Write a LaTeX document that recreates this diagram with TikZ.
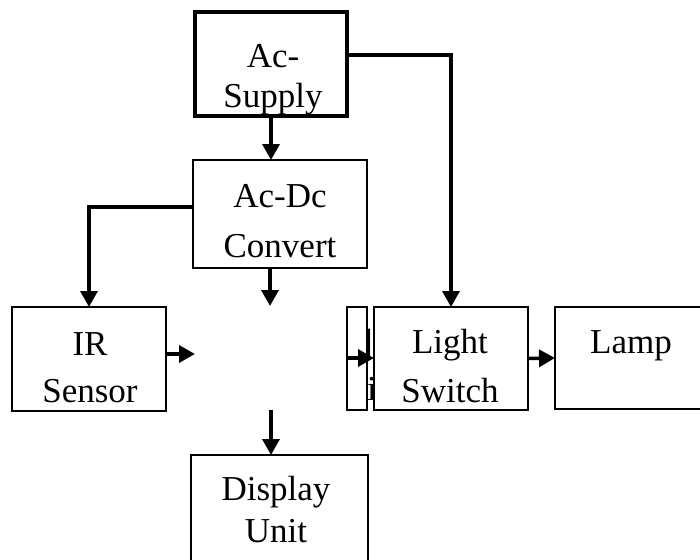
\documentclass[tikz,border=0pt]{standalone}
\usepackage{fontspec}
\setmainfont{Liberation Serif}
\usetikzlibrary{arrows.meta}
\begin{document}
\begin{tikzpicture}[x=1pt,y=-1pt,
  blk/.style={draw=black, line width=2.6pt, fill=white, rectangle, inner sep=0pt, outer sep=0pt, anchor=north west},
  txt/.style={anchor=base, inner sep=0pt, font=\fontsize{35}{42}\selectfont},
  arr/.style={line width=3.5pt, -{Triangle[length=16pt,width=17pt]}},
  lnk/.style={line width=3.5pt}]
\useasboundingbox (0,0) rectangle (700,559);
% boxes
\node[blk, line width=4pt, minimum width=152pt, minimum height=104pt] (supply) at (195,12) {};
\node[blk, minimum width=174pt, minimum height=108pt] (acdc) at (193,160) {};
\node[blk, minimum width=154pt, minimum height=104pt] (ir) at (12,307) {};
\node[blk, minimum width=20pt, minimum height=103pt] (narrow) at (347,307) {};
\node[blk, minimum width=154pt, minimum height=103pt] (light) at (374,307) {};
\node[blk, minimum width=160pt, minimum height=102pt] (lamp) at (555,307) {};
\node[blk, minimum width=177pt, minimum height=110pt] (display) at (191,455) {};
% clipped fragments of hidden text
\begin{scope}
\clip (368.5,300) rectangle (373,412);
\node[txt] (frag1) at (367,353) {]};
\node[txt] (frag2) at (372,400) {i};
\end{scope}
% texts
\node[txt] (supplyA) at (273,68) {Ac-};
\node[txt] (supplyB) at (273,107) {Supply};
\node[txt] (acdcA) at (280,207) {Ac-Dc};
\node[txt] (acdcB) at (280,257) {Convert};
\node[txt] (irA) at (90,355) {IR};
\node[txt] (irB) at (90,402) {Sensor};
\node[txt] (lightA) at (450,353) {Light};
\node[txt] (lightB) at (450,402) {Switch};
\node[txt] (lampA) at (631,353) {Lamp};
\node[txt] (dispA) at (276,500) {Display};
\node[txt] (dispB) at (276,542) {Unit};
% free ends (hidden block)
\coordinate (mcuN) at (270,306);
\coordinate (mcuW) at (195,354);
\coordinate (mcuS) at (271,410);
\coordinate (mcuE) at (347,358);
% connectors
\draw[arr] (supply.south) -- (acdc.north -| supply.south);
\draw[arr] ([yshift=9pt]supply.east) -| (light.north);
\draw[arr] ([yshift=7pt]acdc.west) -| (ir.north);
\draw[arr] (acdc.south -| mcuN) -- (mcuN);
\draw[arr] (ir.east |- mcuW) -- (mcuW);
\draw[arr] (mcuS) -- (display.north -| mcuS);
\draw[arr] (mcuE) -- (light.west |- mcuE);
\draw[arr] (light.east) -- (lamp.west);
\end{tikzpicture}
\end{document}
